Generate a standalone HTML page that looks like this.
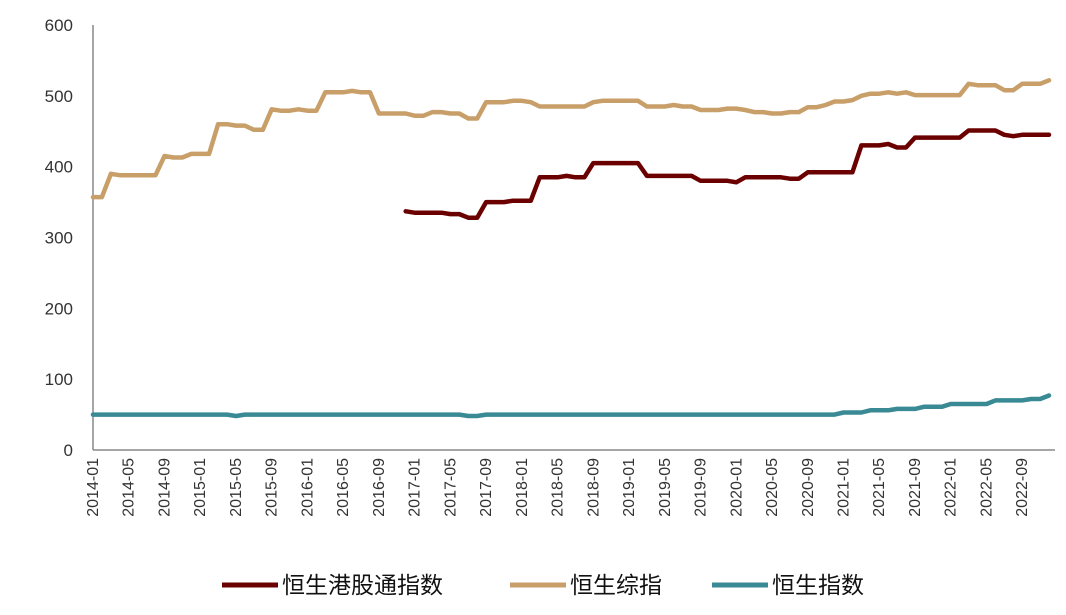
<!DOCTYPE html>
<html><head><meta charset="utf-8"><style>
body{margin:0;background:#fff;font-family:"Liberation Sans","Noto Sans CJK SC",sans-serif}
</style></head><body>
<svg id="c" width="1066" height="610" xmlns="http://www.w3.org/2000/svg"></svg>
<script>
const startYear=2014, nMonths=108;
const yTicks=[0,100,200,300,400,500,600];
const connect=[null,null,null,null,null,null,null,null,null,null,null,null,null,null,null,null,null,null,null,null,null,null,null,null,null,null,null,null,null,null,null,null,null,null,null,
337,335,335,335,335,333,333,328,328,350,350,350,352,352,352,385,385,385,387,385,385,405,405,405,405,405,405,387,387,387,387,387,387,380,380,380,380,378,385,385,385,385,385,383,383,392,392,392,392,392,392,
430,430,430,432,427,427,441,441,441,441,441,441,451,451,451,451,445,443,445,445,445,445];
const composite=[357,357,390,388,388,388,388,388,415,413,413,418,418,418,460,460,458,458,452,452,481,479,479,481,479,479,505,505,505,507,505,505,475,475,475,475,472,472,477,477,475,475,468,468,491,491,491,493,493,491,485,485,485,485,485,485,491,493,493,493,493,493,485,485,485,487,485,485,480,480,480,482,482,480,477,477,475,475,477,477,484,484,487,492,492,494,
500,503,503,505,503,505,501,501,501,501,501,501,517,515,515,515,508,508,517,517,517,522];
const hsi=[50,50,50,50,50,50,50,50,50,50,50,50,50,50,50,50,48,50,50,50,50,50,50,50,50,50,50,50,50,50,50,50,50,50,50,50,50,50,50,50,50,50,48,48,50,50,50,50,50,50,50,50,50,50,50,50,50,50,50,50,50,50,50,50,50,50,50,50,50,50,50,50,50,50,50,50,50,50,50,50,50,50,50,50,53,53,53,56,56,56,58,58,58,61,61,61,65,65,65,65,65,70,70,70,70,72,72,77];
const svg=document.getElementById('c');const NS='http://www.w3.org/2000/svg';
const X0=93,X1=1049,Y0=450,Y1=25;
const xs=i=>X0+i*(X1-X0)/(nMonths-1);
const ys=v=>Y0-(v/600)*(Y0-Y1);
function mk(t,a,p){const e=document.createElementNS(NS,t);for(const k in a)e.setAttribute(k,a[k]);(p||svg).appendChild(e);return e;}
const ax=mk('line',{x1:X0,y1:Y1,x2:X0,y2:Y0,stroke:'#888','stroke-width':1.5});


const bx=mk('line',{x1:X0,y1:Y0,x2:1055,y2:Y0,stroke:'#888','stroke-width':1.5});


yTicks.forEach(v=>{const t=mk('text',{x:73,y:ys(v)+6,'text-anchor':'end','font-size':17,fill:'#333'});t.textContent=v;

});
for(let i=0;i<nMonths;i+=4){const y=startYear+Math.floor(i/12),m=i%12+1;const lab=y+'-'+String(m).padStart(2,'0');
const x=xs(i)+5;const t=mk('text',{x:x,y:458,'text-anchor':'end','font-size':16,fill:'#333',transform:`rotate(-90 ${x} 458)`});t.textContent=lab;

}
function series(arr,col,name){let d='',pen=false;arr.slice(0,nMonths).forEach((v,i)=>{if(v==null){pen=false;return;}d+=(pen?'L':'M')+xs(i).toFixed(1)+' '+ys(v).toFixed(1);pen=true;});
const p=mk('path',{d:d,fill:'none',stroke:col,'stroke-width':4.5,'stroke-linejoin':'round','stroke-linecap':'round'});

}
series(composite,'#c89f68','series-hs-composite');
series(connect,'#6b0000','series-hs-connect');
series(hsi,'#3a8a96','series-hsi');
const leg=[['恒生港股通指数','#6b0000',222],['恒生综指','#c89f68',510],['恒生指数','#3a8a96',712]];
leg.forEach(l=>{const g=mk('g',{});


mk('line',{x1:l[2],y1:585,x2:l[2]+56,y2:585,stroke:l[1],'stroke-width':5},g);
const t=mk('text',{x:l[2]+60,y:593,'font-size':23,fill:'#111'},g);t.textContent=l[0];});
</script></body></html>
